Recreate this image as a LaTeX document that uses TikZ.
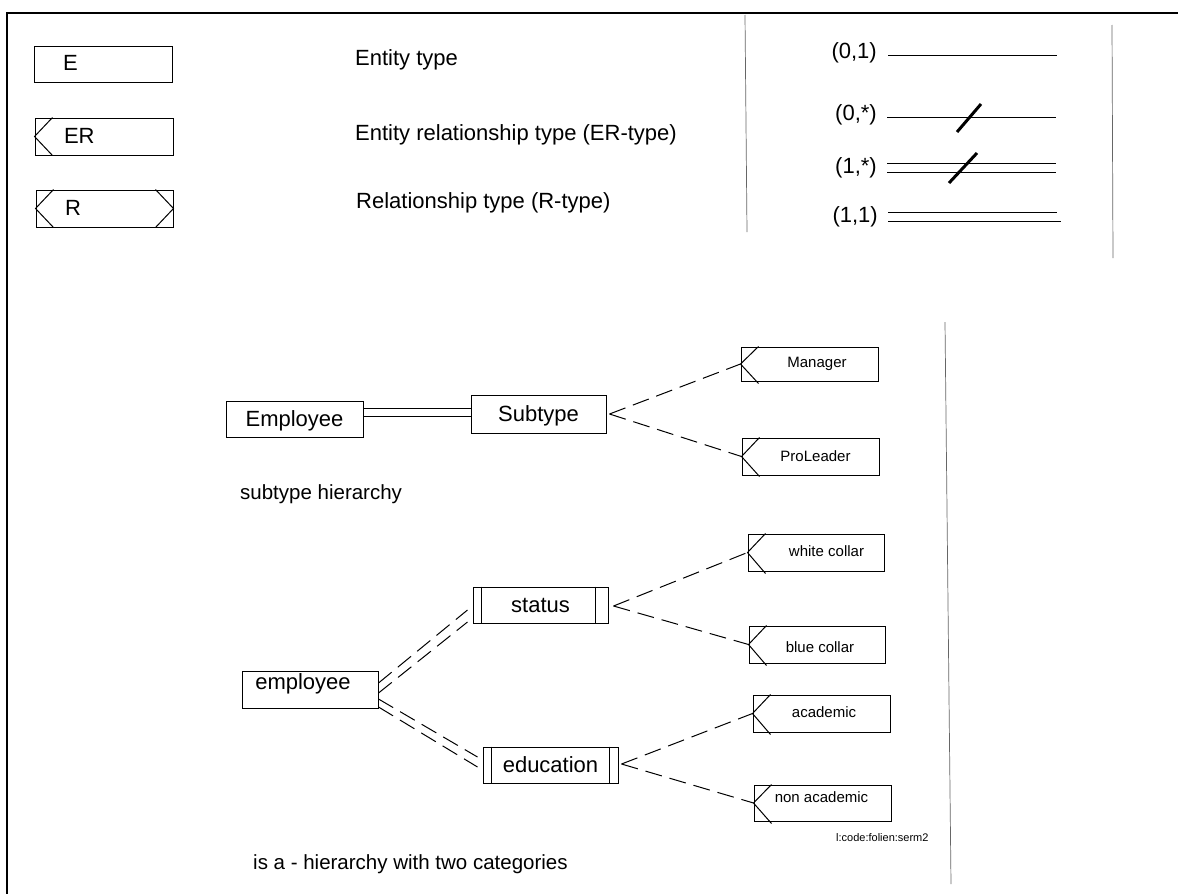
\documentclass[tikz,border=0pt]{standalone}
\usepackage{fontspec}
\setmainfont{Liberation Sans}
\usetikzlibrary{calc}
\begin{document}
\begin{tikzpicture}[x=1pt,y=-1pt,
  box/.style={draw, line width=1pt, inner sep=0pt, text height=15.8pt, text depth=0pt},
  lbox/.style={box, text depth=2pt},
  big/.style={font=\fontsize{22}{24}\selectfont, inner sep=0pt},
  small/.style={font=\fontsize{15}{17}\selectfont, inner sep=0pt, text height=10.8pt, text depth=0pt},
  capt/.style={font=\fontsize{20.5}{24}\selectfont, inner sep=0pt},
  tiny/.style={font=\fontsize{11}{13}\selectfont, inner sep=0pt},
  ln/.style={line width=1pt},
  dsh/.style={line width=1pt, dash pattern=on 17pt off 8pt},
  slash/.style={line width=3pt},
  rule/.style={line width=0.7pt, black!60},
]
\useasboundingbox (0,0) rectangle (1178,894);
\fill[white] (0,0) rectangle (1178,894);

% frame
\draw[line width=2pt] (7,894) -- (7,13) -- (1178,13);
\draw[rule] (745,15) -- (747,232);
\draw[rule] (1112,25) -- (1113,258);
\draw[rule] (945,322) -- (951,884);

% ---------- legend: box types
\node[lbox, big, minimum width=138pt, minimum height=36pt, text width=80pt, inner xsep=29pt, align=left] (E) at (103,64) {E};
\node[lbox, big, minimum width=138pt, minimum height=37pt, text width=80pt, inner xsep=29pt, align=left] (ER) at (104,136.5) {ER};
\node[lbox, big, minimum width=137pt, minimum height=37pt, text width=79pt, inner xsep=29pt, align=left] (R) at (104.5,208.5) {R};
\draw[ln] ($(ER.north west)+(18,0)$) -- (ER.west) -- ($(ER.south west)+(18,0)$);
\draw[ln] ($(R.north west)+(18,0)$) -- (R.west) -- ($(R.south west)+(18,0)$);
\draw[ln] ($(R.north east)+(-18,0)$) -- (R.east) -- ($(R.south east)+(-18,0)$);

\node[big, anchor=base west] (tE) at (355,65) {Entity type};
\node[big, anchor=base west] (tER) at (355,140) {Entity relationship type (ER-type)};
\node[big, anchor=base west] (tR) at (356,208) {Relationship type (R-type)};

% ---------- legend: cardinalities
\node[big, anchor=east] (c01) at (877,53) {(0,1)};
\node[big, anchor=east] (c0s) at (877,115) {(0,*)};
\node[big, anchor=east] (c1s) at (877,168) {(1,*)};
\node[big, anchor=east] (c11) at (878,217) {(1,1)};

\coordinate (a1) at (888,55);  \coordinate (a2) at (1057,55);
\coordinate (b1) at (887,117); \coordinate (b2) at (1056,117);
\coordinate (b3) at (957,132); \coordinate (b4) at (981,104);
\coordinate (d1) at (887,163); \coordinate (d2) at (1056,163);
\coordinate (d3) at (887,172); \coordinate (d4) at (1056,172);
\coordinate (d5) at (949,183); \coordinate (d6) at (977,153);
\coordinate (e1) at (888,212); \coordinate (e2) at (1057,212);
\coordinate (e3) at (888,221); \coordinate (e4) at (1061,221);
\draw[ln] (a1) -- (a2);
\draw[ln] (b1) -- (b2);
\draw[slash] (b3) -- (b4);
\draw[ln] (d1) -- (d2);
\draw[ln] (d3) -- (d4);
\draw[slash] (d5) -- (d6);
\draw[ln] (e1) -- (e2);
\draw[ln] (e3) -- (e4);

% ---------- subtype hierarchy
\node[box, big, minimum width=137pt, minimum height=36pt] (Emp) at (294.5,419) {Employee};
\node[box, big, minimum width=135pt, minimum height=38pt] (Sub) at (538.5,414) {Subtype};
\draw[ln] ($(Emp.east)+(0,-11)$) -- ($(Sub.west)+(0,-6)$);
\draw[ln] ($(Emp.east)+(0,-3)$) -- ($(Sub.west)+(0,2)$);

\node[box, minimum width=137pt, minimum height=34pt] (Man) at (809.5,364) {};
\node[small] (tMan) at (817,362) {Manager};
\node[box, minimum width=137pt, minimum height=37pt] (Pro) at (810.5,456.5) {};
\node[small] (tPro) at (815.5,456) {ProLeader};
\draw[ln] ($(Man.north west)+(18,0)$) -- (Man.west) -- ($(Man.south west)+(18,2)$);
\draw[ln] ($(Pro.north west)+(18,0)$) -- (Pro.west) -- ($(Pro.south west)+(18,1)$);

\coordinate (subtip) at ($(Sub.east)+(3,0)$);
\draw[dsh] (subtip) -- (Man.west);
\draw[dsh] (subtip) -- (Pro.west);

\node[capt, anchor=base west] (cap1) at (240,499) {subtype hierarchy};

% ---------- is-a hierarchy
\node[box, minimum width=136pt, minimum height=37pt] (emp) at (310,689.5) {};
\node[big] (temp) at (303,684) {employee};

\node[box, big, minimum width=135pt, minimum height=36pt] (st) at (540.5,605) {status};
\draw[ln] ($(st.north west)+(9,0)$) -- ($(st.south west)+(9,0)$);
\draw[ln] ($(st.north east)+(-13,0)$) -- ($(st.south east)+(-13,0)$);

\node[box, big, minimum width=135pt, minimum height=36pt] (ed) at (550.5,765) {education};
\draw[ln] ($(ed.north west)+(9,0)$) -- ($(ed.south west)+(9,0)$);
\draw[ln] ($(ed.north east)+(-9,0)$) -- ($(ed.south east)+(-9,0)$);

\draw[dsh] ($(emp.east)+(0,-6.5)$) -- ($(st.west)+(-5,5)$);
\draw[dsh] ($(emp.east)+(0,3.5)$) -- ($(st.west)+(-5,17)$);
\draw[dsh] ($(emp.east)+(0,9.5)$) -- ($(ed.west)+(-5,-8)$);
\draw[dsh] ($(emp.east)+(0,17.5)$) -- ($(ed.west)+(-5,2)$);

\node[box, minimum width=136pt, minimum height=37pt] (wc) at (816,552.5) {};
\node[small] (twc) at (826.5,551) {white collar};
\node[box, minimum width=136pt, minimum height=37pt] (bc) at (817,644.5) {};
\node[small] (tbc) at (820,647) {blue collar};
\node[box, minimum width=137pt, minimum height=37pt] (ac) at (821.5,713.5) {};
\node[small] (tac) at (824,712) {academic};
\node[box, minimum width=137pt, minimum height=36pt] (na) at (822.5,803) {};
\node[small] (tna) at (821.5,797) {non academic};

\foreach \n in {wc,bc,ac,na}{
  \draw[ln] ($(\n.north west)+(18,0)$) -- (\n.west) -- ($(\n.south west)+(18,2)$);
}

\coordinate (sttip) at ($(st.east)+(5,1)$);
\coordinate (edtip) at ($(ed.east)+(3,-1)$);
\draw[dsh] (sttip) -- (wc.west);
\draw[dsh] (sttip) -- (bc.west);
\draw[dsh] (edtip) -- (ac.west);
\draw[dsh] (edtip) -- (na.west);

\node[capt, anchor=base west] (cap2) at (253,869) {is a - hierarchy with two categories};
\node[tiny, anchor=west] (ref) at (836,838) {l:code:folien:serm2};
\end{tikzpicture}
\end{document}
